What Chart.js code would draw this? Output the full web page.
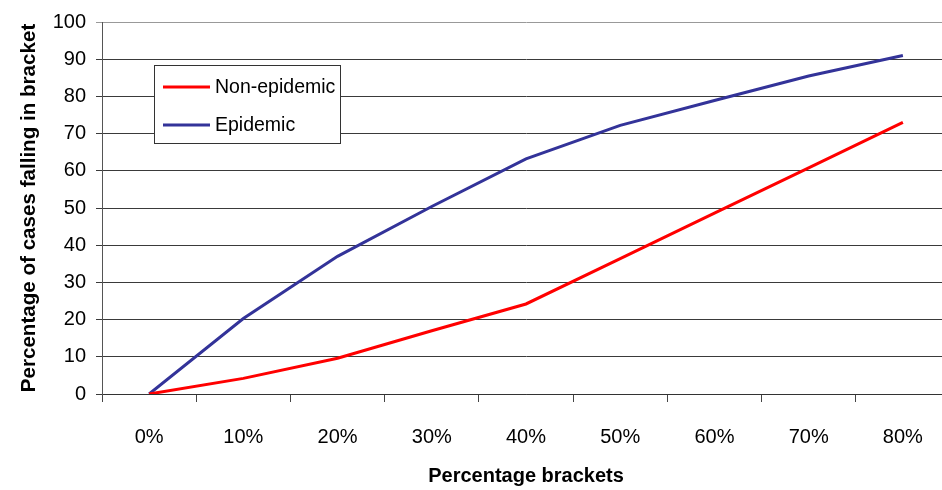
<!DOCTYPE html>
<html>
<head>
<meta charset="utf-8">
<script src="https://cdn.jsdelivr.net/npm/chart.js@4/dist/chart.umd.min.js"></script>
<style>
  html, body { margin: 0; padding: 0; overflow: hidden; background: #fff; width: 942px; height: 490px; }
  #wrap { position: absolute; left: 0; top: 0; width: 950px; height: 490px; }
</style>
</head>
<body>
<div id="wrap"><canvas id="c" width="950" height="490"></canvas></div>
<script>
const categories = ['0%', '10%', '20%', '30%', '40%', '50%', '60%', '70%', '80%'];
const nonEpidemic = [0, 4.2, 9.6, 17, 24.2, 36.4, 48.6, 60.8, 73];
const epidemic = [0, 20.3, 37, 50.4, 63.2, 72.2, 78.9, 85.5, 91];
const yTicks = [0, 10, 20, 30, 40, 50, 60, 70, 80, 90, 100];
const seriesNames = ['Non-epidemic', 'Epidemic'];

const FONT = '"Liberation Sans", Arial, sans-serif';

const boxLegend = {
  id: 'boxLegend',
  afterDatasetsDraw(chart) {
    const ctx = chart.ctx;
    const x = 154.5, y = 65.5, w = 186, h = 78;
    ctx.save();
    ctx.fillStyle = '#fff';
    ctx.fillRect(x, y, w, h);
    ctx.strokeStyle = '#333';
    ctx.lineWidth = 1;
    ctx.strokeRect(x, y, w, h);
    ctx.font = '19.5px ' + FONT;
    ctx.textBaseline = 'middle';
    ctx.textAlign = 'left';
    chart.data.datasets.forEach((ds, i) => {
      const ly = 87 + i * 38;
      ctx.strokeStyle = ds.borderColor;
      ctx.lineWidth = 3;
      ctx.beginPath();
      ctx.moveTo(163, ly);
      ctx.lineTo(210, ly);
      ctx.stroke();
      ctx.fillStyle = '#000';
      ctx.fillText(ds.label, 215, ly + 1);
    });
    ctx.restore();
  }
};

new Chart(document.getElementById('c'), {
  type: 'line',
  data: {
    labels: categories,
    datasets: [
      { label: seriesNames[0], data: nonEpidemic, borderColor: '#FF0000', backgroundColor: '#FF0000', borderWidth: 3, pointRadius: 0, tension: 0, fill: false },
      { label: seriesNames[1], data: epidemic, borderColor: '#333399', backgroundColor: '#333399', borderWidth: 3, pointRadius: 0, tension: 0, fill: false }
    ]
  },
  plugins: [boxLegend],
  options: {
    responsive: false,
    devicePixelRatio: 1,
    animation: false,
    layout: { padding: { left: 0, right: 0, top: 22, bottom: 0 } },
    plugins: { legend: { display: false }, tooltip: { enabled: false } },
    scales: {
      x: {
        type: 'category',
        offset: true,
        grid: { offset: true, drawOnChartArea: false, drawTicks: true, tickLength: 8, color: '#444' },
        border: { display: true, color: '#333', width: 1 },
        ticks: { color: '#000', font: { family: FONT, size: 20 }, padding: 23, maxRotation: 0 },
        title: { display: true, text: 'Percentage brackets', color: '#000', font: { family: FONT, size: 20, weight: 'bold' }, padding: { top: 0, bottom: 2 } },
        afterFit(scale) { scale.height = 96; }
      },
      y: {
        min: 0, max: 100,
        afterBuildTicks(scale) { scale.ticks = yTicks.map(v => ({ value: v })); },
        grid: {
          color: (c) => (c.tick && c.tick.value === 100) ? '#999' : '#3a3a3a',
          tickLength: 6, drawTicks: true
        },
        border: { display: true, color: '#555', width: 1 },
        ticks: { color: '#000', font: { family: FONT, size: 20 }, padding: 10 },
        title: { display: true, text: 'Percentage of cases falling in bracket', color: '#000', font: { family: FONT, size: 20.6, weight: 'bold' }, padding: { top: 17, bottom: 0 } },
        afterFit(scale) { scale.width = 102; }
      }
    }
  }
});
</script>
</body>
</html>
